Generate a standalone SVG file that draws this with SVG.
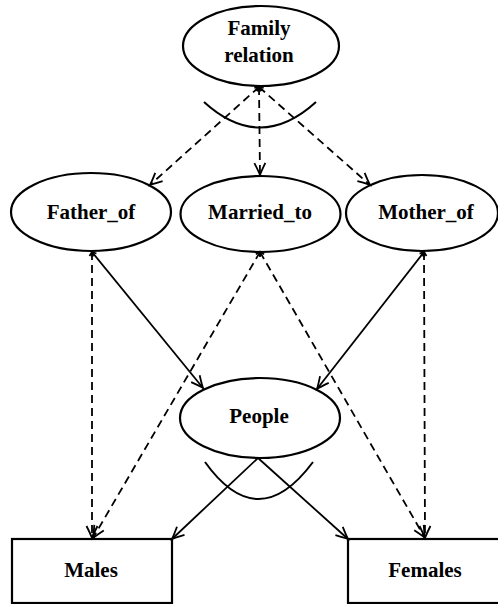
<svg xmlns="http://www.w3.org/2000/svg" width="498" height="604" viewBox="0 0 498 604">
  <style>
    .node { fill: none; stroke: #000; stroke-width: 2.2; }
    .label { font-family: "Liberation Serif", "Times New Roman", serif; font-size: 21px; font-weight: bold; fill: #000; text-anchor: middle; }
    .edge { fill: none; stroke: #000; stroke-width: 1.8; }
    .dash { stroke-dasharray: 8 5; }
    .arc { fill: none; stroke: #000; stroke-width: 2; }
  </style>
  <defs>
    <!-- open V arrowhead at the target end -->
    <marker id="head" markerUnits="userSpaceOnUse" markerWidth="18" markerHeight="18" viewBox="-14 -9 18 18" refX="0" refY="0" orient="auto-start-reverse">
      <path d="M-12,-5.5 Q-4,-1.5 0,0 Q-4,1.5 -12,5.5" fill="none" stroke="#000" stroke-width="1.8"/>
    </marker>
    <!-- small tick arrowhead at the source end -->
    <marker id="tail" markerUnits="userSpaceOnUse" markerWidth="10" markerHeight="10" viewBox="-7 -5 10 10" refX="0" refY="0" orient="auto-start-reverse">
      <path d="M-4,-2.5 L0,0 L-4,2.5" fill="none" stroke="#000" stroke-width="1.8"/>
    </marker>
  </defs>

  <g id="connectors">
    <!-- Family relation to its three relations -->
    <line class="edge dash" x1="259" y1="87" x2="150" y2="185" marker-start="url(#tail)" marker-end="url(#head)"/>
    <line class="edge dash" x1="259" y1="87" x2="260" y2="175" marker-start="url(#tail)" marker-end="url(#head)"/>
    <line class="edge dash" x1="259" y1="87" x2="370" y2="185" marker-start="url(#tail)" marker-end="url(#head)"/>
    <path class="arc" d="M204,102 Q260,153 316,102"/>

    <!-- relations to People -->
    <line class="edge" x1="92" y1="252" x2="203" y2="388" marker-start="url(#tail)" marker-end="url(#head)"/>
    <line class="edge" x1="424" y1="252" x2="317" y2="389" marker-start="url(#tail)" marker-end="url(#head)"/>

    <!-- relations to Males / Females -->
    <line class="edge dash" x1="92" y1="252" x2="92" y2="538" marker-start="url(#tail)" marker-end="url(#head)"/>
    <line class="edge dash" x1="260" y1="252" x2="93" y2="538" marker-start="url(#tail)" marker-end="url(#head)"/>
    <line class="edge dash" x1="260" y1="252" x2="425" y2="538" marker-start="url(#tail)" marker-end="url(#head)"/>
    <line class="edge dash" x1="424" y1="252" x2="425" y2="538" marker-start="url(#tail)" marker-end="url(#head)"/>

    <!-- People partitioned into Males and Females -->
    <line class="edge" x1="258" y1="458" x2="172" y2="539" marker-end="url(#head)"/>
    <line class="edge" x1="258" y1="458" x2="348" y2="539" marker-end="url(#head)"/>
    <path class="arc" d="M205,462 Q258,536 313,462"/>
  </g>

  <g id="family-relation">
    <ellipse class="node" cx="261" cy="46" rx="78" ry="40"/>
    <text class="label" x="259" y="35">Family</text>
    <text class="label" x="259" y="62">relation</text>
  </g>

  <g id="father-of">
    <ellipse class="node" cx="91" cy="212" rx="80" ry="39"/>
    <text class="label" x="91" y="219">Father_of</text>
  </g>

  <g id="married-to">
    <ellipse class="node" cx="260.5" cy="214" rx="80" ry="38"/>
    <text class="label" x="260" y="219">Married_to</text>
  </g>

  <g id="mother-of">
    <ellipse class="node" cx="422" cy="213" rx="76" ry="38"/>
    <text class="label" x="426" y="219">Mother_of</text>
  </g>

  <g id="people">
    <ellipse class="node" cx="260" cy="418" rx="80" ry="40"/>
    <text class="label" x="259" y="423">People</text>
  </g>

  <g id="males">
    <rect class="node" x="12" y="539" width="160" height="64"/>
    <text class="label" x="91" y="577">Males</text>
  </g>

  <g id="females">
    <rect class="node" x="348" y="539" width="156" height="64"/>
    <text class="label" x="425" y="577">Females</text>
  </g>
</svg>
